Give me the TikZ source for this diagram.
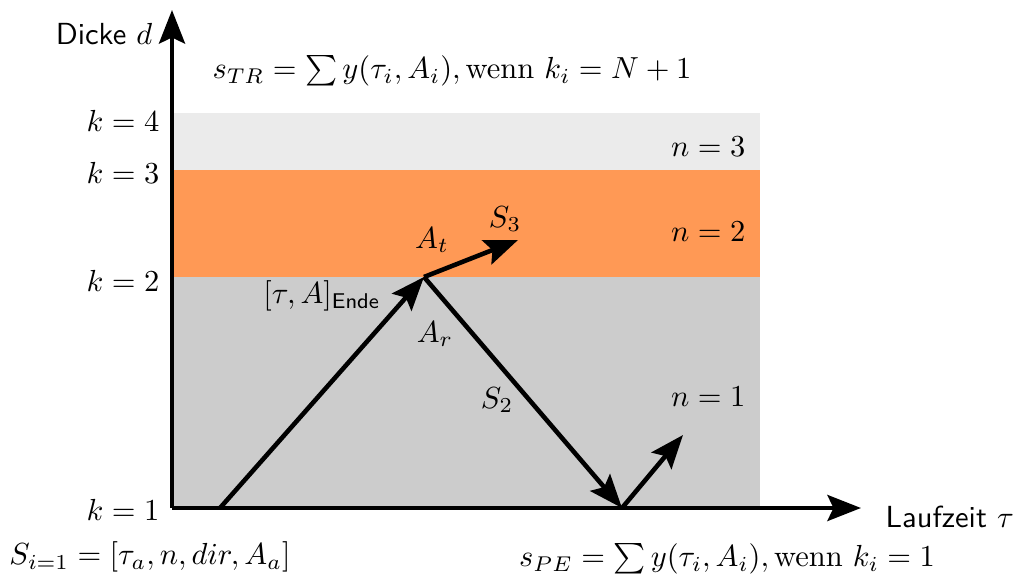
\documentclass[tikz,border=0pt]{standalone}
\usetikzlibrary{arrows.meta}
\definecolor{lightlayer}{RGB}{235,235,235}
\definecolor{orangelayer}{RGB}{255,153,85}
\definecolor{graylayer}{RGB}{204,204,204}
\begin{document}
\begin{tikzpicture}[x=0.328pt,y=-0.328pt,
  axis/.style={line width=1.5pt,-{Stealth[length=11pt,width=8.5pt,inset=2pt]}},
  ray/.style={line width=1.5pt,-{Stealth[length=11pt,width=8.5pt,inset=2pt]}},
  lvl/.style={anchor=east,inner sep=1pt},
  nlab/.style={anchor=east,inner sep=1pt}]
\useasboundingbox (0,0) rectangle (1015,583);
% layers
\fill[lightlayer] (172,113) rectangle (760,170);
\fill[orangelayer] (172,170) rectangle (760,277);
\fill[graylayer] (172,277) rectangle (760,508);
% axes
\coordinate (O) at (172,508);
\coordinate (ytip) at (172,10);
\coordinate (xtip) at (861,508);
\draw[axis] (O) -- (ytip);
\draw[axis] (O) -- (xtip);
% ray points
\coordinate (P0) at (220,508);
\coordinate (P1) at (424,277);
\coordinate (P2) at (622,508);
\coordinate (P3) at (518,240);
\coordinate (P4) at (683,435);
\draw[ray] (P0) -- (P1);
\draw[ray] (P1) -- (P2);
\draw[ray] (P1) -- (P3);
\draw[ray] (P2) -- (P4);
% labels
\node[anchor=east,inner sep=1pt] (dicke) at (156,34) {\textsf{Dicke} $d$};
\node[anchor=west,inner sep=1pt] (lauf) at (882,517) {\textsf{Laufzeit} $\tau$};
\node (str) at (452,71) {$s_{TR}=\sum y(\tau_i,A_i),\mathrm{wenn}\ k_i=N+1$};
\node (spe) at (727,559) {$s_{PE}=\sum y(\tau_i,A_i),\mathrm{wenn}\ k_i=1$};
\node (sinit) at (150,557) {$S_{i=1}=[\tau_a,n,dir,A_a]$};
\node[lvl] (k4) at (163,121) {$k=4$};
\node[lvl] (k3) at (163,173) {$k=3$};
\node[lvl] (k2) at (163,281) {$k=2$};
\node[lvl] (k1) at (163,510) {$k=1$};
\node[nlab] (n3) at (749,147) {$n=3$};
\node[nlab] (n2) at (749,232) {$n=2$};
\node[nlab] (n1) at (749,397) {$n=1$};
\node (At) at (432,240) {$A_t$};
\node (S3) at (505,219) {$S_3$};
\node (Ar) at (435,334) {$A_r$};
\node (S2) at (497,400) {$S_2$};
\node (ende) at (322,296) {$[\tau,A]_{\mathsf{Ende}}$};
\end{tikzpicture}
\end{document}
